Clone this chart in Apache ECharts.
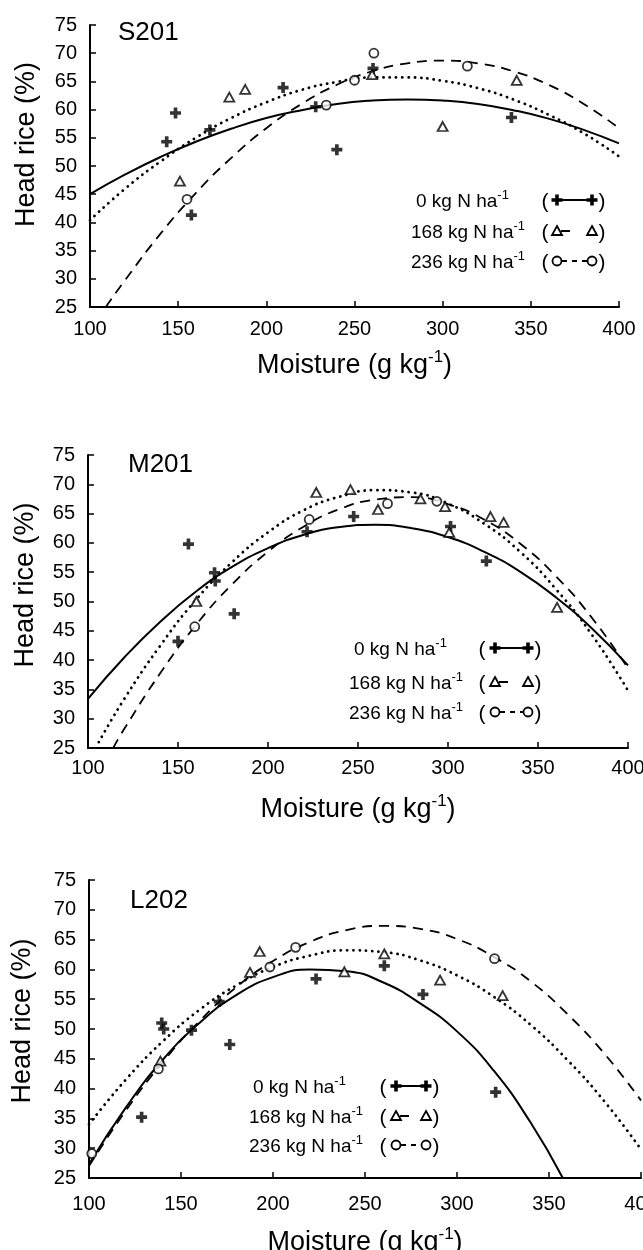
<!DOCTYPE html>
<html>
<head>
<meta charset="utf-8">
<title>Head rice vs moisture</title>
<script src="https://cdn.jsdelivr.net/npm/echarts@6/dist/echarts.min.js"></script>
<style>
  html, body { margin: 0; padding: 0; background: #fff; }
  #chart { width: 643px; height: 1250px; }
</style>
</head>
<body>
<div id="chart"></div>
<script>
// panel names and legend texts
var panelNames = ['S201', 'M201', 'L202']
var legendLabels = ['0 kg N ha', '168 kg N ha', '236 kg N ha']
var xTitle = 'Moisture (g kg'
var yTitle = 'Head rice (%)'

// S201 observed points [moisture, head rice]
var s201Pts0 = [[143.5, 54.3], [148.5, 59.4], [157.5, 41.3], [168, 56.4], [209.5, 63.9], [228, 60.5], [240, 52.9], [260.5, 67.3], [339, 58.6]]
var s201Pts168 = [[151, 47.3], [179, 62.2], [188, 63.6], [260, 66.2], [300, 57.0], [342, 65.2]]
var s201Pts236 = [[155, 44.1], [234, 60.8], [250, 65.2], [261, 70.0], [314, 67.7]]
// S201 fitted curves, read every 20 g/kg
var s201Fit0 = [[100, 45.0], [120, 48.5], [140, 51.6], [160, 54.3], [180, 56.6], [200, 58.5], [220, 59.9], [240, 61.0], [260, 61.6], [280, 61.8], [300, 61.6], [320, 61.0], [340, 59.9], [360, 58.4], [380, 56.4], [400, 54.0]]
var s201Fit168 = [[100, 40.4], [120, 46.0], [140, 50.8], [160, 55.0], [180, 58.5], [200, 61.3], [220, 63.5], [240, 64.9], [260, 65.7], [280, 65.7], [300, 65.1], [320, 63.8], [340, 61.8], [360, 59.1], [380, 55.8], [400, 51.7]]
var s201Fit236 = [[109, 25.0], [120, 29.8], [140, 38.0], [160, 45.2], [180, 51.4], [200, 56.7], [220, 61.0], [240, 64.4], [260, 66.8], [280, 68.2], [300, 68.7], [320, 68.2], [340, 66.8], [360, 64.4], [380, 61.0], [400, 56.7]]

// M201
var m201Pts0 = [[150, 43.2], [155.8, 59.8], [170.3, 54.9], [170.7, 53.5], [181.2, 47.9], [221.7, 61.9], [247.6, 64.5], [301.4, 62.8], [321.3, 56.9]]
var m201Pts168 = [[160.2, 50.0], [226.8, 68.6], [245.8, 69.1], [261.1, 65.7], [284.7, 67.5], [298.4, 66.2], [300.7, 61.8], [323.6, 64.5], [330.9, 63.5], [360.6, 49.0]]
var m201Pts236 = [[159.3, 45.7], [222.9, 64.0], [266.4, 66.7], [293.8, 67.1]]
var m201Fit0 = [[100, 33.4], [120, 40.4], [140, 46.5], [160, 51.7], [180, 55.9], [200, 59.1], [220, 61.4], [240, 62.7], [260, 63.1], [280, 62.5], [300, 61.0], [320, 58.5], [340, 55.1], [360, 50.7], [380, 45.4], [400, 39.1]]
var m201Fit168 = [[106, 26.0], [120, 33.3], [140, 42.4], [160, 50.3], [180, 56.7], [200, 61.8], [220, 65.6], [240, 67.9], [260, 69.0], [280, 68.6], [300, 66.7], [320, 63.3], [340, 58.5], [360, 52.1], [380, 44.3], [400, 34.8]]
var m201Fit236 = [[114, 25.0], [120, 28.2], [140, 37.7], [160, 46.0], [180, 52.9], [200, 58.5], [220, 62.8], [240, 65.8], [260, 67.4], [280, 67.8], [300, 66.6], [320, 64.0], [340, 59.9], [360, 54.3], [380, 47.2], [400, 38.6]]

// L202
var l202Pts0 = [[128.6, 35.2], [139.5, 51.0], [140.6, 50.0], [155.7, 49.8], [170.8, 54.6], [176.5, 47.4], [223.4, 58.4], [260.5, 60.6], [281.5, 55.8], [321, 39.4]]
var l202Pts168 = [[138.8, 44.6], [187.5, 59.5], [192.8, 63.0], [238.8, 59.6], [260.5, 62.6], [290.8, 58.2], [324.8, 55.6]]
var l202Pts236 = [[101.5, 29.1], [137.7, 43.3], [198.3, 60.4], [212.3, 63.7], [320.4, 61.8]]
var l202Fit0 = [[100, 27.3], [120, 36.8], [140, 44.8], [160, 51.0], [180, 55.7], [200, 58.7], [220, 60.0], [240, 59.7], [260, 57.8], [280, 54.3], [300, 49.6], [320, 43.0], [340, 34.3], [357.5, 25.0]]
var l202Fit168 = [[100, 34.0], [120, 41.5], [140, 47.9], [160, 53.2], [180, 57.3], [200, 60.4], [220, 62.3], [240, 63.2], [260, 62.9], [280, 61.5], [300, 59.0], [320, 55.4], [340, 50.7], [360, 44.8], [380, 37.9], [400, 29.8]]
var l202Fit236 = [[100, 27.0], [120, 36.3], [140, 44.4], [160, 51.3], [180, 57.0], [200, 61.4], [220, 64.6], [240, 66.6], [260, 67.3], [280, 66.8], [300, 65.1], [320, 62.1], [340, 58.0], [360, 52.5], [380, 45.9], [400, 38.0]]

var FONT = '"Liberation Sans", Arial, Helvetica, sans-serif'
var CROSS = 'path://M3,0H6V3H9V6H6V9H3V6H0V3H3Z'

// layout of each panel
var layout = [
  { grid: { left: 90, top: 25, width: 529, height: 282 }, labelMargin: 12, xGap: 42, yGap: 50, yShift: 43,
    title: [118, 33], legX: [416, 411, 411], legY: [202, 233, 263], open: 545, s1: 557, s2: 592, close: 602 },
  { grid: { left: 88, top: 455, width: 540, height: 293 }, labelMargin: 10, xGap: 45, yGap: 49, yShift: 33,
    title: [128, 465], legX: [354, 349, 349], legY: [650, 684, 714], open: 482, s1: 495, s2: 528, close: 538 },
  { grid: { left: 89, top: 880, width: 552, height: 298 }, labelMargin: 16, xGap: 48, yGap: 53, yShift: 16,
    title: [130, 901], legX: [253, 249, 249], legY: [1088, 1118, 1147], open: 383, s1: 396, s2: 426, close: 436 }
]

var panels = [
  [s201Pts0, s201Pts168, s201Pts236, s201Fit0, s201Fit168, s201Fit236],
  [m201Pts0, m201Pts168, m201Pts236, m201Fit0, m201Fit168, m201Fit236],
  [l202Pts0, l202Pts168, l202Pts236, l202Fit0, l202Fit168, l202Fit236]
]

var grids = []
var xAxes = []
var yAxes = []
var series = []
var graphics = []

layout.forEach(function(L, i) {
  grids.push(Object.assign({ containLabel: false, outerBoundsMode: 'none' }, L.grid))
  xAxes.push({
    gridIndex: i,
    type: 'value',
    min: 100,
    max: 400,
    interval: 50,
    axisLine: { show: true, onZero: false, lineStyle: { color: '#000', width: 2 } },
    axisTick: { show: true, inside: true, length: 6, lineStyle: { color: '#000', width: 1.5 } },
    axisLabel: { margin: L.labelMargin, color: '#000', fontSize: 20, fontFamily: FONT },
    splitLine: { show: false },
    name: '{a|' + xTitle + '}{s|-1}{a|)}',
    nameLocation: 'middle',
    nameGap: L.xGap,
    nameTextStyle: {
      color: '#000',
      rich: {
        a: { fontSize: 27, lineHeight: 34, fontFamily: FONT, color: '#000' },
        s: { fontSize: 17, lineHeight: 17, verticalAlign: 'top', fontFamily: FONT, color: '#000' }
      }
    }
  })
  yAxes.push({
    gridIndex: i,
    type: 'value',
    min: 25,
    max: 75,
    interval: 5,
    axisLine: { show: true, onZero: false, lineStyle: { color: '#000', width: 2 } },
    axisTick: { show: true, inside: true, length: 6, lineStyle: { color: '#000', width: 1.5 } },
    axisLabel: { margin: 13, color: '#000', fontSize: 20, fontFamily: FONT },
    splitLine: { show: false },
    name: yTitle,
    nameLocation: 'middle',
    nameGap: L.yGap,
    nameTextStyle: { color: '#000', fontSize: 27, fontFamily: FONT, padding: [0, 0, 0, L.yShift] }
  })

  var d = panels[i]
  series.push(
    { type: 'line', xAxisIndex: i, yAxisIndex: i, data: d[3], smooth: 0.5, showSymbol: false, silent: true,
      lineStyle: { color: '#000', width: 2 }, z: 2 },
    { type: 'line', xAxisIndex: i, yAxisIndex: i, data: d[4], smooth: 0.5, showSymbol: false, silent: true,
      lineStyle: { color: '#000', width: 2.8, type: [0.1, 6.2], cap: 'round' }, z: 2 },
    { type: 'line', xAxisIndex: i, yAxisIndex: i, data: d[5], smooth: 0.5, showSymbol: false, silent: true,
      lineStyle: { color: '#000', width: 1.8, type: [10, 7] }, z: 2 },
    { type: 'scatter', xAxisIndex: i, yAxisIndex: i, data: d[0], symbol: CROSS, symbolSize: 11,
      itemStyle: { color: '#000' }, z: 5 },
    { type: 'scatter', xAxisIndex: i, yAxisIndex: i, data: d[1], symbol: 'triangle', symbolSize: [10, 9],
      itemStyle: { color: '#fff', borderColor: '#000', borderWidth: 1.8 }, z: 5 },
    { type: 'scatter', xAxisIndex: i, yAxisIndex: i, data: d[2], symbol: 'circle', symbolSize: 9,
      itemStyle: { color: '#fff', borderColor: '#000', borderWidth: 1.8 }, z: 5 }
  )

  // panel title
  graphics.push({
    type: 'text', x: L.title[0], y: L.title[1],
    style: { text: panelNames[i], fill: '#000', fontSize: 26, fontFamily: FONT, verticalAlign: 'middle' }
  })

  // legend block
  for (var r = 0; r < 3; r++) {
    var y = L.legY[r]
    var sy = y - 2
    graphics.push({
      type: 'text', x: L.legX[r], y: y,
      style: {
        text: '{n|' + legendLabels[r] + '}{s|-1}',
        verticalAlign: 'middle',
        rich: {
          n: { fontSize: 19, lineHeight: 26, fontFamily: FONT, fill: '#000' },
          s: { fontSize: 13, lineHeight: 13, verticalAlign: 'top', fontFamily: FONT, fill: '#000' }
        }
      }
    })
    graphics.push({ type: 'text', x: L.open, y: y, style: { text: '(', fill: '#000', fontSize: 21, fontFamily: FONT, align: 'center', verticalAlign: 'middle' } })
    graphics.push({ type: 'text', x: L.close, y: y, style: { text: ')', fill: '#000', fontSize: 21, fontFamily: FONT, align: 'center', verticalAlign: 'middle' } })
    if (r === 0) {
      graphics.push({ type: 'line', shape: { x1: L.s1, y1: sy, x2: L.s2, y2: sy }, style: { stroke: '#000', lineWidth: 2 } })
      ;[L.s1, L.s2].forEach(function(cx) {
        graphics.push({ type: 'polygon', shape: { points: [[cx - 1.8, sy - 5.5], [cx + 1.8, sy - 5.5], [cx + 1.8, sy - 1.8], [cx + 5.5, sy - 1.8], [cx + 5.5, sy + 1.8], [cx + 1.8, sy + 1.8], [cx + 1.8, sy + 5.5], [cx - 1.8, sy + 5.5], [cx - 1.8, sy + 1.8], [cx - 5.5, sy + 1.8], [cx - 5.5, sy - 1.8], [cx - 1.8, sy - 1.8]] }, style: { fill: '#000' } })
      })
    } else if (r === 1) {
      graphics.push({ type: 'line', shape: { x1: L.s1 + 4, y1: sy, x2: L.s1 + 13, y2: sy }, style: { stroke: '#000', lineWidth: 2 } })
      ;[L.s1, L.s2].forEach(function(cx) {
        graphics.push({ type: 'polygon', shape: { points: [[cx, sy - 5], [cx + 5, sy + 4], [cx - 5, sy + 4]] }, style: { fill: '#fff', stroke: '#000', lineWidth: 1.8 } })
      })
    } else {
      graphics.push({ type: 'line', shape: { x1: L.s1 + 5, y1: sy, x2: L.s2 - 5, y2: sy }, style: { stroke: '#000', lineWidth: 2, lineDash: [5, 5] } })
      ;[L.s1, L.s2].forEach(function(cx) {
        graphics.push({ type: 'circle', shape: { cx: cx, cy: sy, r: 4.5 }, style: { fill: '#fff', stroke: '#000', lineWidth: 1.8 } })
      })
    }
  }
})

var chart = echarts.init(document.getElementById('chart'))
chart.setOption({
  animation: false,
  backgroundColor: '#fff',
  grid: grids,
  xAxis: xAxes,
  yAxis: yAxes,
  series: series,
  graphic: graphics
})
</script>
</body>
</html>
